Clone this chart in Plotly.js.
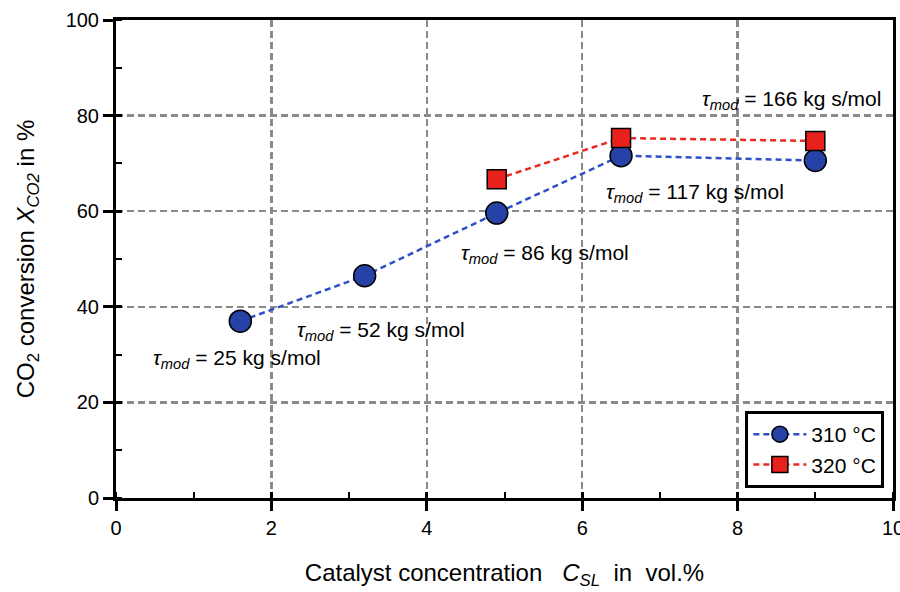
<!DOCTYPE html>
<html>
<head>
<meta charset="utf-8">
<script src="https://cdn.plot.ly/plotly-3.0.1.min.js"></script>
<style>html,body{margin:0;padding:0;background:#fff;}#chart{width:900px;height:592px;}</style>
</head>
<body>
<div id="chart"></div>
<script>
// Data
const conc310 = [1.6, 3.2, 4.9, 6.5, 9.0];
const conv310 = [37.0, 46.5, 59.6, 71.6, 70.6];
const conc320 = [4.9, 6.5, 9.0];
const conv320 = [66.7, 75.3, 74.7];
const tauValues = ["25", "52", "86", "117", "166"];
const tauX = [0.45, 2.3, 4.42, 6.28, 7.52];
const tauY = [29.0, 35.0, 51.0, 63.8, 83.3];
const seriesNames = ["310 °C", "320 °C"];

const FONT = "Liberation Sans";

const traces = [
  {
    x: conc310, y: conv310, name: seriesNames[0], type: "scatter", mode: "lines+markers",
    line: {color: "#2f4fc9", width: 2.5, dash: "6px,4px"},
    marker: {symbol: "circle", size: 22, color: "#2742a6", line: {color: "#000", width: 1.5}}
  },
  {
    x: conc320, y: conv320, name: seriesNames[1], type: "scatter", mode: "lines+markers",
    line: {color: "#ea2a22", width: 2.5, dash: "6px,4px"},
    marker: {symbol: "square", size: 19, color: "#e8211d", line: {color: "#000", width: 1.5}}
  }
];

const annotations = tauValues.map((v, i) => ({
  x: tauX[i], y: tauY[i], xref: "x", yref: "y", xanchor: "left", yanchor: "middle",
  showarrow: false,
  text: "<i>τ</i><sub><i>mod</i></sub> = " + v + " kg s/mol",
  font: {family: FONT, size: 21, color: "#000"}
}));

const axisCommon = {
  showline: true, linecolor: "#000", linewidth: 3, mirror: true,
  ticks: "outside", ticklen: 10, tickwidth: 3, tickcolor: "#000",
  tickfont: {family: FONT, size: 20, color: "#000"},
  ticklabeloverflow: "allow",
  showgrid: true, gridcolor: "#8a8a8a", gridwidth: 2.5, griddash: "7px,4px",
  zeroline: false
};

const layout = {
  width: 900, height: 592,
  margin: {l: 116, r: 7, t: 20, b: 94},
  paper_bgcolor: "#fff", plot_bgcolor: "#fff",
  font: {family: FONT, color: "#000"},
  showlegend: true,
  legend: {
    x: 0.81, y: 0.182, xanchor: "left", yanchor: "top",
    bordercolor: "#000", borderwidth: 3, bgcolor: "#fff",
    font: {family: FONT, size: 21, color: "#000"},
    tracegroupgap: 0, itemwidth: 53
  },
  xaxis: Object.assign({}, axisCommon, {
    range: [0, 10], dtick: 2, tick0: 0,
    minor: {dtick: 1, ticks: "inside", ticklen: 6, tickwidth: 2, tickcolor: "#000", showgrid: false},
    title: {text: "Catalyst concentration   <i>C</i><sub><i>SL</i></sub>  in  vol.%", font: {family: FONT, size: 24, color: "#000"}, standoff: 27}
  }),
  yaxis: Object.assign({}, axisCommon, {
    range: [0, 100], dtick: 20, tick0: 0,
    minor: {dtick: 10, ticks: "inside", ticklen: 6, tickwidth: 2, tickcolor: "#000", showgrid: false},
    title: {text: "CO<sub>2</sub> conversion <i>X</i><sub><i>CO2</i></sub> in %", font: {family: FONT, size: 24, color: "#000"}, standoff: 25}
  }),
  xaxis2: {overlaying: "x", range: [0, 10], dtick: 2, tick0: 0, ticks: "inside", ticklen: 6, tickwidth: 3, tickcolor: "#000",
    showticklabels: false, showgrid: false, zeroline: false, showline: false, side: "bottom"},
  yaxis2: {overlaying: "y", range: [0, 100], dtick: 20, tick0: 0, ticks: "inside", ticklen: 6, tickwidth: 3, tickcolor: "#000",
    showticklabels: false, showgrid: false, zeroline: false, showline: false, side: "left"},
  annotations: annotations
};

// invisible helper trace so the overlay axes (inner halves of crossing ticks) are drawn
traces.push({x: [conc310[0]], y: [conv310[0]], xaxis: "x2", yaxis: "y2", mode: "markers",
  showlegend: false, hoverinfo: "skip", marker: {opacity: 0}});

Plotly.newPlot("chart", traces, layout, {displayModeBar: false, staticPlot: true});
</script>
</body>
</html>
